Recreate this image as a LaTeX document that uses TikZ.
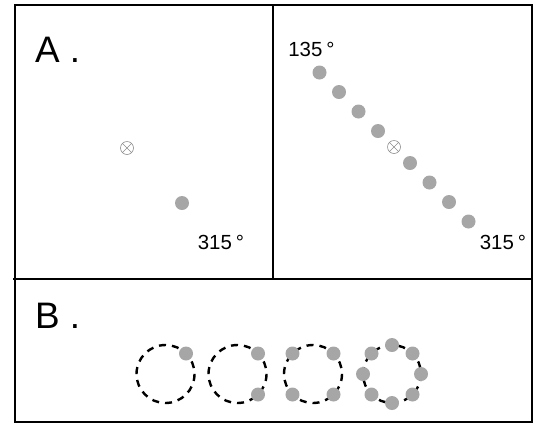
\documentclass[tikz,border=0pt]{standalone}
\usepackage{fontspec}
\setmainfont{Liberation Sans}
\usetikzlibrary{positioning}
\definecolor{dotgrey}{RGB}{166,166,166}
\definecolor{markgrey}{RGB}{140,140,140}

\begin{document}
\begin{tikzpicture}[x=1bp, y=-1bp,
    frame/.style={draw=black, line width=2bp},
    dotmark/.style={circle, fill=dotgrey, minimum size=14bp, inner sep=0pt},
    centremark/.style={circle, draw=markgrey, line width=0.6bp, minimum size=13bp, inner sep=0pt,
        path picture={\draw[markgrey, line width=0.6bp]
            (path picture bounding box.north west) -- (path picture bounding box.south east)
            (path picture bounding box.south west) -- (path picture bounding box.north east);}},
    panellabel/.style={font=\fontsize{37}{40}\selectfont, anchor=base west, inner sep=0pt},
    anglelabel/.style={font=\fontsize{20.5}{23}\selectfont, inner sep=0pt},
    ringdash/.style={draw=black, line width=2.4bp, dash pattern=on 7bp off 6bp}
]
\useasboundingbox (0,0) rectangle (537,425);

% frames
\draw[frame] (15,5) rectangle (532,422);
\draw[frame] (13,279) -- (532,279);
\draw[frame] (273,5) -- (273,279);

% panel A, left
\node[panellabel] (labA) at (35,62) {A .};
\node[centremark] (ctrL) at (127,148) {};
\node[dotmark] (dotL) at ([shift={(55,55)}]ctrL) {};
\node[anglelabel] (degL) at (221,242) {315\hspace{4bp}°};

% panel A, right
\node[centremark] (ctrR) at (394,147) {};
\foreach \d [count=\i] in {-74.5,-55,-35.5,-16,16,35.5,55,74.5}
    \node[dotmark] (dotR\i) at ([shift={(\d,\d)}]ctrR) {};
\node[anglelabel] (degRa) at (311.5,49) {135\hspace{4bp}°};
\node[anglelabel] (degRb) at (503,242.5) {315\hspace{4bp}°};

% panel B
\node[panellabel] (labB) at (35,328) {B .};
\foreach \cx [count=\k] in {165.5,237.5,313,392} {
    \coordinate (ring\k) at (\cx,374);
    \draw[ringdash] (ring\k) circle[radius=29];
}
\foreach \k/\angs in {1/{-45}, 2/{-45,45}, 3/{-135,-45,45,135}, 4/{0,45,90,135,180,225,270,315}} {
    \foreach \a [count=\j] in \angs
        \node[dotmark] (dot\k\j) at ([shift={(\a:29)}]ring\k) {};
}
\end{tikzpicture}
\end{document}
